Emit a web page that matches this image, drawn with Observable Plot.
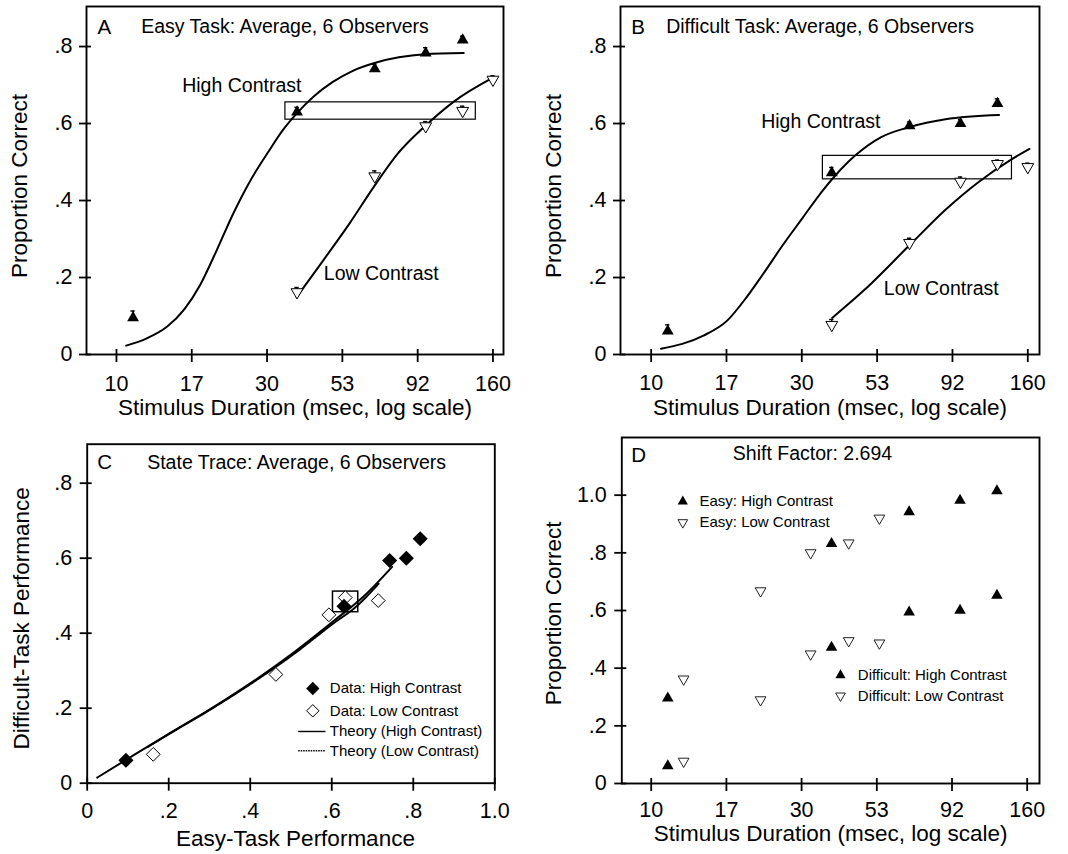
<!DOCTYPE html>
<html><head><meta charset="utf-8">
<script src="https://cdn.jsdelivr.net/npm/d3@7"></script>
<script src="https://cdn.jsdelivr.net/npm/@observablehq/plot@0.6"></script>
<style>
html,body{margin:0;padding:0;background:#fff;}
#grid{display:grid;grid-template-columns:534px 534px;grid-template-rows:427px 427px;width:1068px;height:854px;}
#grid > *{display:block;width:534px;height:427px;}
</style></head><body><div id="grid"></div>
<script>
// ---------- tick arrays ----------
const durationTicks = [10, 17.41, 30.31, 52.78, 91.90, 160];
const durationTickLabels = ["10", "17", "30", "53", "92", "160"];
const proportionTicks = [0, 0.2, 0.4, 0.6, 0.8];
const proportionTicksD = [0, 0.2, 0.4, 0.6, 0.8, 1.0];
const easyTicksC = [0, 0.2, 0.4, 0.6, 0.8, 1.0];

// ---------- data ----------
const highDurations = [11.3, 37.8, 67, 97.5, 128];
const lowDurations = [37.8, 67, 97.5, 128, 160];
const shiftedLowDurations = [12.7, 22.4, 32.4, 42.9, 53.8];

const easyHigh = [0.095, 0.630, 0.742, 0.783, 0.817];
const easyHighErr = [0.018, 0.012, 0.012, 0.014, 0.010];
const easyLow = [0.162, 0.463, 0.593, 0.633, 0.714];
const easyLowErr = [0.012, 0.014, 0.012, 0.012, 0.010];
const difficultHigh = [0.061, 0.472, 0.594, 0.600, 0.652];
const difficultHighErr = [0.016, 0.014, 0.010, 0.010, 0.012];
const difficultLow = [0.077, 0.290, 0.449, 0.495, 0.487];
const difficultLowErr = [0.014, 0.012, 0.012, 0.010, 0.010];

const easyHighShifted = [0.296, 0.832, 0.942, 0.982, 1.015];
const easyLowShifted = [0.362, 0.668, 0.800, 0.834, 0.920];

// fitted curves
const easyHighFitDur = [10.74, 12.5, 14.5, 16.5, 18.5, 20.9, 23.6, 26.6, 30.8, 34.0, 37.8, 43.0, 49.2, 57.0, 67.3, 80.0, 96.6, 129];
const easyHighFit = [0.023, 0.042, 0.072, 0.118, 0.180, 0.270, 0.365, 0.447, 0.530, 0.582, 0.627, 0.672, 0.708, 0.737, 0.758, 0.772, 0.780, 0.783];
const easyLowFitDur = [37.7, 45.8, 55.6, 66.6, 79.6, 96.6, 120, 160];
const easyLowFit = [0.149, 0.244, 0.340, 0.436, 0.523, 0.592, 0.657, 0.719];
const difficultHighFitDur = [10.75, 14.7, 17.5, 20.2, 22.8, 26.4, 30.5, 35.2, 38.8, 44.8, 54.2, 67.2, 87.3, 129.5];
const difficultHighFit = [0.015, 0.049, 0.088, 0.149, 0.209, 0.285, 0.355, 0.424, 0.465, 0.516, 0.564, 0.591, 0.611, 0.622];
const difficultLowFitDur = [37.9, 48.1, 67.2, 87.3, 110.9, 140.7, 162];
const difficultLowFit = [0.095, 0.168, 0.285, 0.376, 0.447, 0.505, 0.534];

// state trace theory curves
const theoryHighEasy = [0.0245, 0.0964, 0.196, 0.300, 0.400, 0.500, 0.605, 0.680, 0.748];
const theoryHighDifficult = [0.015, 0.063, 0.129, 0.196, 0.266, 0.343, 0.433, 0.500, 0.577];
const theoryLowEasy = [0.149, 0.196, 0.300, 0.400, 0.500, 0.605, 0.660, 0.715];
const theoryLowDifficult = [0.097, 0.128, 0.195, 0.264, 0.339, 0.427, 0.471, 0.532];

// highlight boxes [x1, x2, y1, y2]
const boxEasy = [34.7, 141, 0.610, 0.655];
const boxDifficult = [35.4, 142.4, 0.455, 0.516];
const boxTrace = [0.603, 0.665, 0.456, 0.511];

// legend line positions in panel C data units [x1, x2, y]
const legendSolidC = [0.5177, 0.5846, 0.1379];
const legendDottedC = [0.5177, 0.5846, 0.0864];

// ---------- helpers ----------
const FONT = '"Liberation Sans", Arial, Helvetica, sans-serif';
const TICKFONT = 21.5;
const CURVE = "monotone-x";
const zip = (xs, ys, es) => xs.map((x, i) => ({x, y: ys[i], e: es ? es[i] : 0}));
const propFmt = d => d === 0 ? "0" : d3.format(".1f")(d).replace(/^0\./, ".");
const durFmt = d => durationTickLabels[durationTicks.indexOf(d)];
const sqrt3 = Math.sqrt(3);
const triangleDown = {
  draw(context, size) {
    const y = -Math.sqrt(size / (sqrt3 * 3));
    context.moveTo(0, -y * 2);
    context.lineTo(-sqrt3 * y, y);
    context.lineTo(sqrt3 * y, y);
    context.closePath();
  }
};
const TICKW = 1.8;

function axesMarks({xTicks, xFmt, yTicks, plotW, plotH, xDy, yDx}) {
  return [
    Plot.ruleX(xTicks, {x: d => d, insetTop: plotH - 5, insetBottom: -8, strokeWidth: TICKW}),
    Plot.ruleY(yTicks, {y: d => d, insetRight: plotW - 5, insetLeft: -7, strokeWidth: TICKW}),
    Plot.text(xTicks, {x: d => d, frameAnchor: "bottom", dy: xDy, textAnchor: "middle", lineAnchor: "middle", text: xFmt, fontSize: TICKFONT}),
    Plot.text(yTicks, {y: d => d, frameAnchor: "left", dx: yDx, textAnchor: "end", lineAnchor: "middle", text: propFmt, fontSize: TICKFONT}),
    Plot.frame({stroke: "black", strokeWidth: 1.9})
  ];
}
function txt(s, o) {
  return Plot.text([s], {text: d => d, frameAnchor: "top-left", textAnchor: "start", lineAnchor: "middle", ...o});
}
function xTitle(s, o) {
  return Plot.text([s], {text: d => d, frameAnchor: "bottom", textAnchor: "middle", lineAnchor: "middle", fontSize: 22.5, ...o});
}
function yTitle(s, o) {
  return Plot.text([s], {text: d => d, frameAnchor: "left", textAnchor: "middle", lineAnchor: "middle", rotate: -90, fontSize: 22.5, ...o});
}
function errorMarks(pts) {
  return [
    Plot.ruleX(pts, {x: "x", y1: "y", y2: d => d.y + d.e, strokeWidth: 1.4}),
    Plot.ruleY(pts, {y: d => d.y + d.e, x1: d => d.x / 1.016, x2: d => d.x * 1.016, strokeWidth: 1.4})
  ];
}

function durationPanel({letter, title, highFitDur, highFit, lowFitDur, lowFit, high, highErr, low, lowErr, box,
                        mr, xDomain, hiLabel, loLabel, titleDx, letterDx, xDy}) {
  const W = 534, H = 427, ml = 86, mt = 6, mb = 73;
  const plotW = W - ml - mr, plotH = H - mt - mb;
  const hiPts = zip(highDurations, high, highErr);
  const loPts = zip(lowDurations, low, lowErr);
  return Plot.plot({
    width: W, height: H, marginLeft: ml, marginRight: mr, marginTop: mt, marginBottom: mb,
    x: {type: "log", domain: xDomain, axis: null},
    y: {domain: [0, 0.904], axis: null},
    style: {fontFamily: FONT, color: "black", background: "white", overflow: "visible"},
    marks: [
      ...axesMarks({xTicks: durationTicks, xFmt: durFmt, yTicks: proportionTicks, plotW, plotH, xDy, yDx: -14}),
      Plot.rect([box], {x1: d => d[0], x2: d => d[1], y1: d => d[2], y2: d => d[3], fill: "none", stroke: "black", strokeWidth: 1.2}),
      Plot.line(zip(highFitDur, highFit), {x: "x", y: "y", curve: CURVE, strokeWidth: 2}),
      Plot.line(zip(lowFitDur, lowFit), {x: "x", y: "y", curve: CURVE, strokeWidth: 2}),
      ...errorMarks(hiPts),
      ...errorMarks(loPts),
      Plot.dot(hiPts, {x: "x", y: "y", symbol: "triangle", r: 4.4, fill: "black", stroke: "none"}),
      Plot.dot(loPts, {x: "x", y: "y", symbol: triangleDown, r: 4.4, fill: "white", stroke: "black", strokeWidth: 1}),
      txt(letter, {dx: letterDx, dy: 20.7, fontSize: 20.5}),
      txt(title, {dx: titleDx, dy: 20.7, fontSize: 19.5}),
      txt("High Contrast", {dx: hiLabel[0], dy: hiLabel[1], fontSize: 19.5}),
      txt("Low Contrast", {dx: loLabel[0], dy: loLabel[1], fontSize: 19.5}),
      xTitle("Stimulus Duration (msec, log scale)", {dy: 53}),
      yTitle("Proportion Correct", {dx: -66.5, dy: 5.5})
    ]
  });
}

const panelA = durationPanel({
  letter: "A", title: "Easy Task: Average, 6 Observers",
  highFitDur: easyHighFitDur, highFit: easyHighFit, lowFitDur: easyLowFitDur, lowFit: easyLowFit,
  high: easyHigh, highErr: easyHighErr, low: easyLow, lowErr: easyLowErr, box: boxEasy,
  mr: 31, xDomain: [8.02, 172.9], hiLabel: [95.7, 79], loLabel: [237.3, 267.3], titleDx: 54.7, letterDx: 11, xDy: 29.3
});
const panelB = durationPanel({
  letter: "B", title: "Difficult Task: Average, 6 Observers",
  highFitDur: difficultHighFitDur, highFit: difficultHighFit, lowFitDur: difficultLowFitDur, lowFit: difficultLowFit,
  high: difficultHigh, highErr: difficultHighErr, low: difficultLow, lowErr: difficultLowErr, box: boxDifficult,
  mr: 29, xDomain: [7.98, 174.4], hiLabel: [140.7, 115.7], loLabel: [263.3, 282.3], titleDx: 45.7, letterDx: 10.7, xDy: 28.5
});

// ---------- panel C ----------
const panelC = (() => {
  const W = 534, H = 427, ml = 86.7, mr = 39.7, mt = 16.7, mb = 71.3;
  const plotW = W - ml - mr, plotH = H - mt - mb;
  const hiPts = zip(easyHigh, difficultHigh);
  const loPts = zip(easyLow, difficultLow);
  return Plot.plot({
    width: W, height: H, marginLeft: ml, marginRight: mr, marginTop: mt, marginBottom: mb,
    x: {domain: [0, 1], axis: null}, y: {domain: [0, 0.904], axis: null},
    style: {fontFamily: FONT, color: "black", background: "white", overflow: "visible"},
    marks: [
      ...axesMarks({xTicks: easyTicksC, xFmt: propFmt, yTicks: proportionTicks, plotW, plotH, xDy: 28, yDx: -15}),
      Plot.line(zip(theoryHighEasy, theoryHighDifficult), {x: "x", y: "y", curve: CURVE, strokeWidth: 2}),
      Plot.line(zip(theoryLowEasy, theoryLowDifficult), {x: "x", y: "y", curve: CURVE, strokeWidth: 2, strokeDasharray: "1.5,1"}),
      Plot.rect([boxTrace], {x1: d => d[0], x2: d => d[1], y1: d => d[2], y2: d => d[3], fill: "none", stroke: "black", strokeWidth: 1.5}),
      Plot.dot(loPts, {x: "x", y: "y", symbol: "diamond2", r: 6.2, fill: "white", stroke: "black", strokeWidth: 1}),
      Plot.dot(hiPts, {x: "x", y: "y", symbol: "diamond2", r: 6.8, fill: "black", stroke: "none"}),
      txt("C", {dx: 10, dy: 18.3, fontSize: 20.5}),
      txt("State Trace: Average, 6 Observers", {dx: 60, dy: 18.3, fontSize: 19.5}),
      // legend
      Plot.dot([0], {frameAnchor: "top-left", dx: 225.6, dy: 244.3, symbol: "diamond2", r: 6, fill: "black"}),
      Plot.dot([0], {frameAnchor: "top-left", dx: 225.6, dy: 266.6, symbol: "diamond2", r: 5.6, fill: "white", stroke: "black", strokeWidth: 1}),
      Plot.link([legendSolidC], {x1: d => d[0], x2: d => d[1], y1: d => d[2], y2: d => d[2], strokeWidth: 1.4}),
      Plot.link([legendDottedC], {x1: d => d[0], x2: d => d[1], y1: d => d[2], y2: d => d[2], strokeWidth: 1.5, strokeDasharray: "1.5,1"}),
      txt("Data: High Contrast", {dx: 242.6, dy: 244.3, fontSize: 15}),
      txt("Data: Low Contrast", {dx: 242.6, dy: 266.6, fontSize: 15}),
      txt("Theory (High Contrast)", {dx: 242.6, dy: 287.3, fontSize: 15}),
      txt("Theory (Low Contrast)", {dx: 242.6, dy: 306.6, fontSize: 15}),
      xTitle("Easy-Task Performance", {dx: 4.5, dy: 56}),
      yTitle("Difficult-Task Performance", {dx: -65.7, dy: 4.6})
    ]
  });
})();

// ---------- panel D ----------
const panelD = (() => {
  const W = 534, H = 427, ml = 87.3, mr = 29, mt = 10, mb = 71;
  const plotW = W - ml - mr, plotH = H - mt - mb;
  const ehPts = zip(highDurations, easyHighShifted);
  const elPts = zip(shiftedLowDurations, easyLowShifted);
  const dhPts = zip(highDurations, difficultHigh);
  const dlPts = zip(shiftedLowDurations, difficultLow);
  const up = {symbol: "triangle", r: 4.3, fill: "black", stroke: "none"};
  const down = {symbol: triangleDown, r: 4.0, fill: "white", stroke: "#222", strokeWidth: 1};
  return Plot.plot({
    width: W, height: H, marginLeft: ml, marginRight: mr, marginTop: mt, marginBottom: mb,
    x: {type: "log", domain: [8.05, 175.2], axis: null}, y: {domain: [0, 1.2], axis: null},
    style: {fontFamily: FONT, color: "black", background: "white", overflow: "visible"},
    marks: [
      ...axesMarks({xTicks: durationTicks, xFmt: durFmt, yTicks: proportionTicksD, plotW, plotH, xDy: 26.5, yDx: -15}),
      Plot.dot(ehPts, {x: "x", y: "y", ...up}),
      Plot.dot(dhPts, {x: "x", y: "y", ...up}),
      Plot.dot(elPts, {x: "x", y: "y", ...down}),
      Plot.dot(dlPts, {x: "x", y: "y", ...down}),
      txt("D", {dx: 9.4, dy: 17.5, fontSize: 20.5}),
      txt("Shift Factor: 2.694", {dx: 111, dy: 16.7, fontSize: 19.5}),
      Plot.dot([0], {frameAnchor: "top-left", dx: 61, dy: 64, symbol: "triangle", r: 3.8, fill: "black"}),
      Plot.dot([0], {frameAnchor: "top-left", dx: 61, dy: 85, symbol: triangleDown, r: 3.6, fill: "white", stroke: "#222", strokeWidth: 1}),
      txt("Easy: High Contrast", {dx: 77.7, dy: 64, fontSize: 15}),
      txt("Easy: Low Contrast", {dx: 77.7, dy: 85, fontSize: 15}),
      Plot.dot([0], {frameAnchor: "top-left", dx: 218.7, dy: 237.7, symbol: "triangle", r: 3.8, fill: "black"}),
      Plot.dot([0], {frameAnchor: "top-left", dx: 218.7, dy: 258.3, symbol: triangleDown, r: 3.6, fill: "white", stroke: "#222", strokeWidth: 1}),
      txt("Difficult: High Contrast", {dx: 236, dy: 237.7, fontSize: 15}),
      txt("Difficult: Low Contrast", {dx: 236, dy: 258.3, fontSize: 15}),
      xTitle("Stimulus Duration (msec, log scale)", {dy: 50.7}),
      yTitle("Proportion Correct", {dx: -67.8, dy: 2.8})
    ]
  });
})();

const grid = document.getElementById("grid");
[panelA, panelB, panelC, panelD].forEach(p => grid.appendChild(p));
</script>
</body></html>
